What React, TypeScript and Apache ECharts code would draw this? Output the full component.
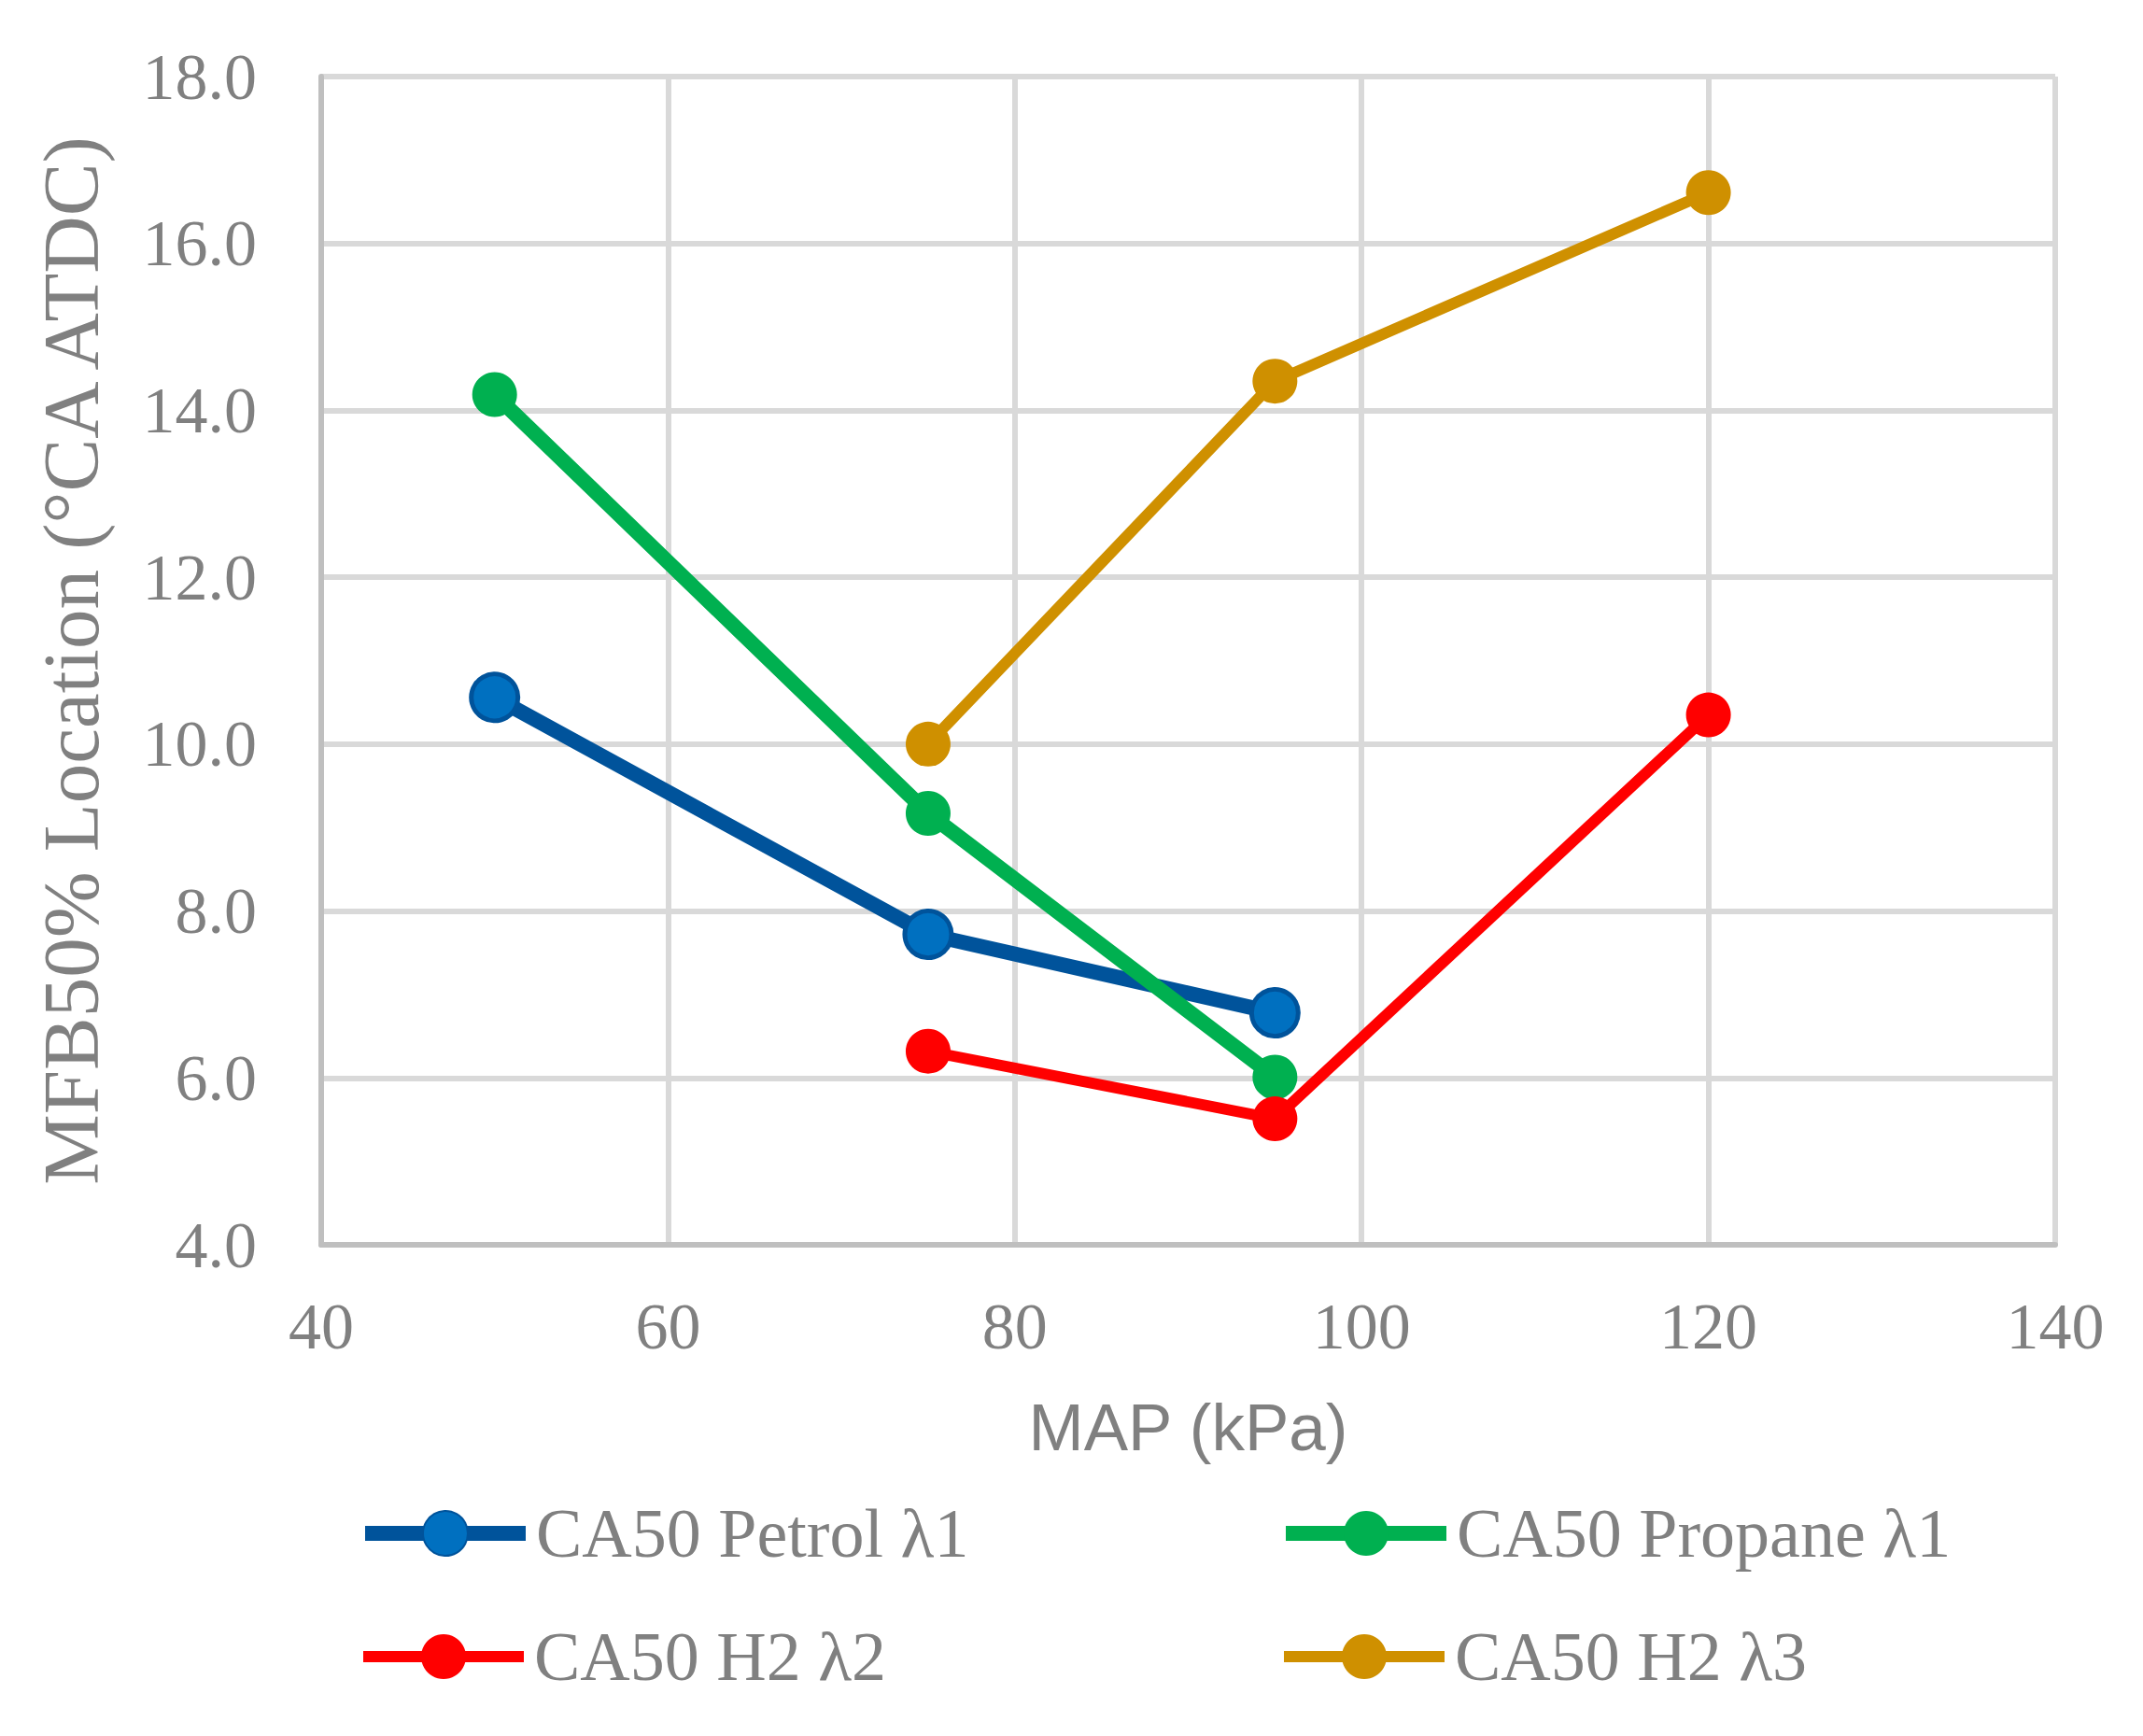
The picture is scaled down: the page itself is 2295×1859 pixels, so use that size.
import { useEffect, useRef } from "react";
import * as echarts from "echarts";

// MAP (kPa) points for each series
const petrolMap = [50, 75, 95];
const petrolCa50 = [10.56, 7.72, 6.78];

const propaneMap = [50, 75, 95];
const propaneCa50 = [14.19, 9.17, 6.01];

const h2L2Map = [75, 95, 120];
const h2L2Ca50 = [6.32, 5.51, 10.35];

const h2L3Map = [75, 95, 120];
const h2L3Ca50 = [10.0, 14.35, 16.61];

const seriesNames = ["CA50 Petrol λ1", "CA50 Propane λ1", "CA50 H2 λ2", "CA50 H2 λ3"];

const pairs = (xs: number[], ys: number[]) => xs.map((x, i) => [x, ys[i]]);

const TEXT = "#808080";
const SERIF = "'Liberation Serif', 'Times New Roman', serif";

function App() {
  const chartRef = useRef<HTMLDivElement>(null);

  useEffect(() => {
    document.body.style.margin = "0";
    const chart = echarts.init(chartRef.current, null, { renderer: "svg" });

    const legendAt = (name: string, left: number, top: number, lineWidth: number) => ({
      data: [name],
      left,
      top,
      padding: 0,
      itemWidth: 172,
      itemHeight: 60,
      lineStyle: { width: lineWidth },
      textStyle: {
        color: TEXT,
        fontFamily: SERIF,
        fontSize: 74,
        padding: [0, 0, 0, 6],
      },
    });

    const option = {
      animation: false,
      backgroundColor: "#ffffff",
      grid: { left: 344, top: 82, right: 94, bottom: 526 },
      legend: [
        legendAt(seriesNames[0], 383, 1605, 16),
        legendAt(seriesNames[1], 1369, 1605, 16),
        legendAt(seriesNames[2], 383, 1737, 12),
        legendAt(seriesNames[3], 1369, 1737, 12),
      ],
      xAxis: {
        type: "value",
        min: 40,
        max: 140,
        interval: 20,
        name: "MAP (kPa)",
        nameLocation: "middle",
        nameGap: 160,
        nameTextStyle: {
          color: TEXT,
          fontFamily: "'Liberation Sans', Arial, sans-serif",
          fontSize: 71,
        },
        axisLine: { lineStyle: { color: "#BFBFBF", width: 6 } },
        axisTick: { show: false },
        axisLabel: { color: TEXT, fontFamily: SERIF, fontSize: 70, margin: 52 },
        splitLine: { lineStyle: { color: "#D9D9D9", width: 6 } },
      },
      yAxis: {
        type: "value",
        min: 4,
        max: 18,
        interval: 2,
        name: "MFB50% Location (°CA ATDC)",
        nameLocation: "middle",
        nameGap: 226,
        nameTextStyle: { color: TEXT, fontFamily: SERIF, fontSize: 85 },
        axisLine: { show: true, lineStyle: { color: "#BFBFBF", width: 6 } },
        axisTick: { show: false },
        axisLabel: {
          color: TEXT,
          fontFamily: SERIF,
          fontSize: 70,
          margin: 69,
          formatter: (v: number) => v.toFixed(1),
        },
        splitLine: { lineStyle: { color: "#D9D9D9", width: 6 } },
      },
      series: [
        {
          name: seriesNames[0],
          type: "line",
          data: pairs(petrolMap, petrolCa50),
          symbol: "circle",
          symbolSize: 50,
          lineStyle: { color: "#00539B", width: 16 },
          itemStyle: { color: "#0070C0", borderColor: "#00539B", borderWidth: 5 },
        },
        {
          name: seriesNames[1],
          type: "line",
          data: pairs(propaneMap, propaneCa50),
          symbol: "circle",
          symbolSize: 48,
          lineStyle: { color: "#00B050", width: 16 },
          itemStyle: { color: "#00B050" },
        },
        {
          name: seriesNames[2],
          type: "line",
          data: pairs(h2L2Map, h2L2Ca50),
          symbol: "circle",
          symbolSize: 48,
          lineStyle: { color: "#FF0000", width: 12 },
          itemStyle: { color: "#FF0000" },
        },
        {
          name: seriesNames[3],
          type: "line",
          data: pairs(h2L3Map, h2L3Ca50),
          symbol: "circle",
          symbolSize: 48,
          lineStyle: { color: "#CF9000", width: 12 },
          itemStyle: { color: "#CF9000" },
        },
      ],
    };

    chart.setOption(option);

    return () => {
      chart.dispose();
    };
  }, []);

  return <div ref={chartRef} style={{ width: 2295, height: 1859 }} />;
}

export default App;
